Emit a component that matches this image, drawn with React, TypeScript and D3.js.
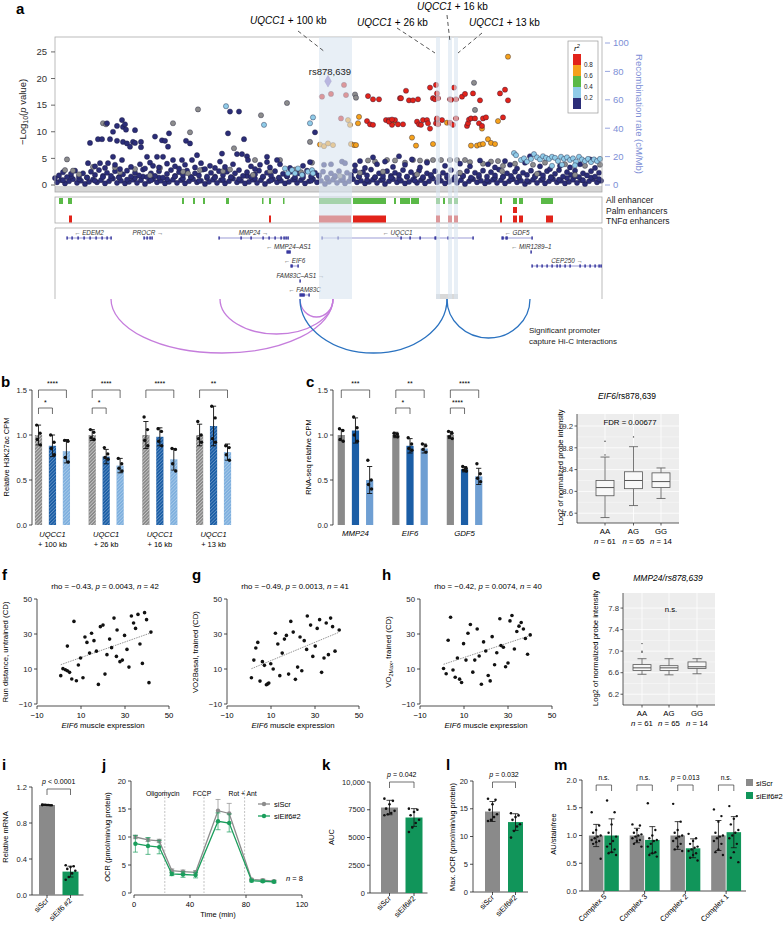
import React from 'react';
import * as d3 from 'd3';

const FONT = 'Liberation Sans, Arial, Helvetica, sans-serif';

// ---------------- Panel a data ----------------
type P = [number, number];
const baseLowSnps: P[] = [[2,.5],[6,.9],[10,.3],[14,.7],[18,1.1],[22,.4],[26,.8],[30,.2],[34,.6],[38,1.0],[42,.5],[46,.9],[50,.3],[54,.7],[58,1.2],[62,.4],[66,.8],[70,.3],[74,.6],[78,1.0],[82,.4],[86,.9],[90,.2],[94,.7],[98,1.1],[102,.5],[106,.8],[110,.3],[114,.6],[118,1.0],[122,.4],[126,.9],[130,.3],[134,.7],[138,1.1],[142,.5],[146,.8],[150,.2],[154,.6],[158,1.0],[162,.4],[166,.9],[170,.3],[174,.7],[178,1.2],[182,.5],[186,.8],[190,.3],[194,.6],[198,1.0],[202,.4],[206,.9],[210,.2],[214,.7],[218,1.1],[222,.5],[226,.8],[230,.3],[234,.6],[238,1.0],[242,.4],[246,.9],[250,.3],[254,.7],[258,1.1],[262,.5],[266,.8],[270,.2],[274,.6],[278,1.0],[282,.4],[286,.9],[290,.3],[294,.7],[298,1.1],[302,.5],[306,.8],[310,.3],[314,.6],[318,1.0],[322,.4],[326,.9],[330,.2],[334,.7],[338,1.1],[342,.5],[346,.8],[350,.3],[354,.6],[358,1.0],[362,.4],[366,.9],[370,.3],[374,.7],[378,1.2],[382,.5],[386,.8],[390,.3],[394,.6],[398,1.0],[402,.4],[406,.9],[410,.2],[414,.7],[418,1.1],[422,.5],[426,.8],[430,.3],[434,.6],[438,1.0],[442,.4],[446,.9],[450,.3],[454,.7],[458,1.1],[462,.5],[466,.8],[470,.2],[474,.6],[478,1.0],[482,.4],[486,.9],[490,.3],[494,.7],[498,1.1],[502,.5],[506,.8],[510,.3],[514,.6],[518,1.0],[522,.4],[526,.9],[530,.2],[534,.7],[538,1.1],[542,.5],[546,.8]];
const baseFillSnps: P[] = [[0,1.3],[8,.9],[16,1.6],[24,1.1],[32,1.4],[40,.8],[48,1.7],[56,1.2],[64,1.5],[72,1.0],[80,1.3],[88,1.6],[96,.9],[104,1.4],[112,1.1],[120,1.7],[128,1.2],[136,1.5],[144,.8],[152,1.3],[160,1.6],[168,1.0],[176,1.4],[184,1.1],[192,1.7],[200,1.2],[208,1.5],[216,.9],[224,1.3],[232,1.6],[240,1.1],[248,1.4],[256,.8],[264,1.7],[272,1.2],[280,1.5],[288,1.0],[296,1.3],[304,1.6],[312,.9],[320,1.4],[328,1.1],[336,1.7],[344,1.2],[352,1.5],[360,.8],[368,1.3],[376,1.6],[384,1.0],[392,1.4],[400,1.1],[408,1.7],[416,1.2],[424,1.5],[432,.9],[440,1.3],[448,1.6],[456,1.1],[464,1.4],[472,.8],[480,1.7],[488,1.2],[496,1.5],[504,1.0],[512,1.3],[520,1.6],[528,.9],[536,1.4],[544,1.1]];
const baseMidSnps: P[] = [[4,1.8],[8,2.4],[12,1.5],[16,2.1],[20,2.7],[24,1.6],[28,2.2],[32,1.4],[36,2.5],[40,1.9],[44,2.8],[48,1.5],[52,2.3],[56,1.7],[60,2.6],[64,1.4],[68,2.0],[72,2.7],[76,1.6],[80,2.3],[84,1.8],[88,2.9],[92,1.5],[96,2.2],[100,1.7],[104,2.6],[108,1.4],[112,2.1],[116,2.8],[120,1.6],[124,2.4],[128,1.9],[132,2.7],[136,1.5],[140,2.2],[144,1.8],[148,2.9],[152,1.6],[156,2.3],[160,1.4],[164,2.6],[168,1.9],[172,2.5],[176,1.5],[180,2.2],[184,2.8],[188,1.7],[192,2.4],[196,1.5],[200,2.0],[204,2.7],[208,1.6],[212,2.3],[216,1.8],[220,2.6],[224,1.4],[228,2.1],[232,1.7],[236,2.5],[240,1.5],[244,2.2],[248,1.9],[252,2.7],[256,1.6],[260,2.3],[264,1.8],[268,2.5],[272,1.4],[276,2.2],[280,1.7],[284,2.6],[288,1.5],[292,2.3],[296,1.9],[300,2.7],[304,1.6],[308,2.4],[312,1.8],[316,2.9],[320,1.5],[324,2.2],[328,1.7],[332,2.6],[336,1.4],[340,2.3],[344,1.9],[348,2.8],[352,1.6],[356,2.4],[360,1.8],[364,2.7],[368,1.5],[372,2.2],[376,1.9],[380,2.6],[384,1.6],[388,2.3],[392,1.8],[396,2.8],[400,1.5],[404,2.2],[408,1.7],[412,2.6],[416,1.4],[420,2.3],[424,1.9],[428,2.7],[432,1.6],[436,2.4],[440,1.8],[444,2.9],[448,1.5],[452,2.2],[456,1.7],[460,2.5],[464,1.6],[468,2.3],[472,1.9],[476,2.7],[480,1.5],[484,2.2],[488,1.8],[492,2.6],[496,1.4],[500,2.1],[504,2.8],[508,1.6],[512,2.4],[516,1.9],[520,2.7],[524,1.5],[528,2.2],[532,1.8],[536,2.6],[540,1.6],[544,2.3]];
const navySnps: P[] = [[33,4.1],[35,7.9],[43,8.6],[47,8.6],[52,11.6],[55,8.6],[58,10.0],[62,11.1],[62,8.3],[67,12.2],[68,10.9],[70,11.4],[71,10.4],[68,8.1],[72,7.8],[75,7.2],[78,8.1],[80,10.3],[80,7.9],[86,8.1],[86,7.1],[58,5.3],[53,4.1],[45,4.1],[67,4.7],[92,5.3],[100,9.1],[102,5.3],[107,8.4],[108,5.3],[110,8.3],[113,7.2],[114,9.7],[118,4.7],[127,4.7],[131,8.3],[135,7.8],[137,4.7],[142,5.6],[167,5.9],[173,9.7],[175,13.8],[182,5.8],[184,13.8],[187,5.8],[189,8.6],[192,5.4],[193,4.7],[212,5.3],[212,4.3],[222,4.7],[260,9.9],[344,5.4],[475,5.4],[535,4.8],[269,3.8],[276,3.9],[287,4.4],[290,4.1],[40,3.5],[50,3.2],[60,3.8],[65,3.0],[76,3.4],[85,3.9],[90,3.1],[95,4.2],[98,3.6],[104,3.3],[112,4.0],[120,3.5],[124,3.1],[130,3.8],[140,3.3],[146,4.1],[150,3.0],[155,3.6],[160,3.2],[165,4.4],[170,3.4],[178,3.9],[196,3.5],[200,3.0],[205,3.8],[215,3.3],[225,3.9],[235,3.2],[248,3.6],[255,4.3],[300,3.7],[305,4.5],[310,3.2],[318,5.2],[322,3.9],[330,4.4],[338,3.4],[350,3.8],[357,4.8],[365,3.3],[372,4.2],[390,3.6],[405,4.0],[415,3.5],[425,4.6],[433,3.9],[440,3.3],[450,4.5],[455,3.8],[462,3.1],[470,4.2],[485,3.5],[495,3.0],[505,3.6],[515,3.3],[525,3.9],[540,3.2]];
const graySnps: P[] = [[12,4.8],[10,2.8],[18,2.7],[48,11.6],[51,11.4],[118,11.6],[135,9.9],[143,14.2],[206,13.1],[232,15.4],[179,6.9],[200,4.7],[225,4.7],[255,8.1],[257,4.2],[300,17.0],[301,16.4],[305,2.3],[332,4.7],[38,3.4],[60,3.3],[80,3.0],[105,3.2],[128,2.5],[145,2.8],[175,2.9],[215,2.6],[240,2.9],[313,4.6],[320,4.4],[340,4.6],[350,4.2],[358,4.7],[365,4.6],[372,4.4],[378,4.7],[386,4.7],[395,4.7],[402,4.7],[410,4.7],[415,4.3],[419,19.2],[420,14.1],[428,4.0],[436,4.4],[443,4.5],[448,3.6],[460,4.0],[478,3.8],[490,4.2],[510,3.9],[530,3.6],[545,3.8],[24,2.0],[65,2.4],[95,1.8],[133,2.2],[168,2.6],[198,1.9],[246,2.4],[285,1.7],[328,2.5],[362,2.0],[405,2.3],[447,2.6],[482,2.1],[520,1.9]];
const lightBlueSnps: P[] = [[171,14.8],[209,11.3],[258,12.7],[255,11.6],[230,3.1],[233,2.2],[237,2.8],[240,2.2],[243,3.1],[247,1.9],[253,2.5],[257,2.8],[258,2.2],[459,6.0],[461,5.6],[466,4.7],[469,5.0],[472,4.4],[476,4.9],[479,5.8],[482,5.2],[485,4.8],[488,5.4],[491,5.1],[494,4.9],[497,5.3],[500,5.1],[503,4.5],[506,5.3],[509,4.9],[512,5.2],[515,4.7],[518,5.0],[521,4.4],[524,5.3],[527,4.8],[530,4.5],[533,4.9],[536,4.3],[539,4.8],[542,4.5],[545,4.9],[507,3.8],[497,3.6],[520,3.7]];
const orangeSnps: P[] = [[265,7.6],[269,7.3],[273,7.8],[278,7.5],[293,12.2],[295,11.3],[296,7.7],[299,7.5],[301,7.5],[303,11.6],[304,12.8],[338,11.7],[357,8.9],[361,7.4],[378,7.7],[392,11.7],[416,7.4],[422,7.4],[425,7.6],[427,10.6],[428,7.7],[433,8.6],[436,7.9],[440,7.7],[443,12.0],[453,24.1]];
const redSnps: P[] = [[267,16.6],[276,17.1],[289,18.8],[291,16.9],[286,12.5],[312,12.0],[313,16.7],[318,16.1],[324,16.1],[315,11.4],[318,11.3],[331,12.2],[334,12.2],[337,11.3],[340,12.2],[345,16.3],[334,11.9],[337,12.3],[343,11.4],[346,16.3],[348,11.4],[351,17.7],[354,15.9],[358,15.9],[362,11.9],[363,16.1],[364,11.4],[366,11.3],[368,12.2],[372,12.2],[373,11.6],[375,18.3],[375,10.6],[378,16.3],[380,16.1],[381,11.6],[382,12.3],[383,16.3],[381,18.8],[382,17.2],[382,12.5],[383,11.4],[387,12.2],[395,11.7],[395,16.1],[396,16.0],[398,11.3],[399,18.3],[401,16.1],[401,12.5],[407,16.6],[410,17.1],[412,11.1],[413,11.6],[414,12.3],[416,12.5],[418,17.2],[420,12.5],[424,11.6],[425,15.9],[427,11.1],[428,12.5],[431,12.7],[445,17.2],[450,17.9],[448,12.7],[453,15.9]];
const leadSnp: P = [273, 19.5];
const leadSnpName = 'rs878,639';
const r2Breaks = ['0.8', '0.6', '0.4', '0.2'];
const r2Colors = ['#e2231a', '#f5a11c', '#5ab947', '#8fcbe8', '#2b2d78'];
const logPTicks = [0, 5, 10, 15, 20, 25];
const recTicks = [0, 20, 40, 60, 80, 100];

const enhancerBands = [
  { name: '+ 100 kb', s: 264, e: 297 },
  { name: '+ 26 kb', s: 381, e: 385 },
  { name: '+ 16 kb', s: 393, e: 397 },
  { name: '+ 13 kb', s: 399, e: 403 },
];
const allEnh: P[] = [[4,8],[13,17],[127,129],[138,140],[148,150],[171,174],[207,208.5],[214,216],[228,229.5],[264,296],[298,331],[339,341],[345,355],[356,364],[381,385],[388,390],[393,397],[399,403],[445,447],[458,462],[464,468],[486,498]];
const palmEnh: P[] = [[458,462]];
const tnfEnh: P[] = [[14,17],[214,216],[264,296],[298,331],[381,385],[393,397],[399,403],[445,447],[458,462],[464,468],[491,498]];
const trackNames = ['All enhancer', 'Palm enhancers', 'TNF\u03b1 enhancers'];

const genes = [
  { name: 'EDEM2', s: 12, e: 56, strand: -1, row: 0, exons: [12, 17, 23, 29, 35, 41, 47, 52, 56] },
  { name: 'PROCR', s: 89, e: 97, strand: 1, row: 0, exons: [89, 92, 95, 97] },
  { name: 'MMP24', s: 164, e: 233, strand: 1, row: 0, exons: [164, 186, 196, 208, 214, 220, 226, 229, 231, 233] },
  { name: 'MMP24\u2013AS1', s: 232, e: 235, strand: -1, row: 1, exons: [232, 233, 234, 235] },
  { name: 'EIF6', s: 236, e: 243, strand: -1, row: 2, exons: [236, 237, 243] },
  { name: 'FAM83C\u2013AS1', s: 245, e: 245.6, strand: 1, row: 3, exons: [245] },
  { name: 'FAM83C', s: 245, e: 254, strand: -1, row: 4, exons: [245, 246, 247, 248, 249, 254] },
  { name: 'UQCC1', s: 267, e: 418, strand: -1, row: 0, exons: [267, 283, 346, 355, 365, 380, 381, 393, 418] },
  { name: 'GDF5', s: 447, e: 477, strand: -1, row: 0, exons: [447, 448, 451, 452, 477] },
  { name: 'MIR1289\u20131', s: 476, e: 476.6, strand: -1, row: 1, exons: [476] },
  { name: 'CEP250', s: 477, e: 547, strand: 1, row: 2, exons: [477, 482, 487, 492, 497, 502, 505, 510, 515, 525, 530, 535, 540, 544, 546] },
];
const purpleArcs: [number, number, number][] = [[56, 278, 54], [165, 278, 35], [245, 278, 18]];
const blueArcs: [number, number, number][] = [[245, 392, 54], [392, 475, 39]];

// ---------------- Panel b, c ----------------
const bGroups = ['+ 100 kb', '+ 26 kb', '+ 16 kb', '+ 13 kb'];
const bMeans = [[1.0, 0.88, 0.82], [1.0, 0.76, 0.66], [1.0, 0.98, 0.73], [1.0, 1.10, 0.81]];
const bErrs = [[0.11, 0.12, 0.13], [0.06, 0.08, 0.08], [0.15, 0.10, 0.12], [0.12, 0.22, 0.09]];
const bPoints = [
  [[1.11, 1.02, 0.95, 0.89], [1.0, 0.92, 0.85, 0.78], [0.94, 0.93, 0.75, 0.7]],
  [[1.06, 1.03, 0.97, 0.95], [0.86, 0.79, 0.75, 0.73], [0.74, 0.68, 0.63, 0.6]],
  [[1.2, 1.06, 0.94, 0.88], [1.07, 1.04, 0.93, 0.88], [0.85, 0.84, 0.68, 0.6]],
  [[1.15, 1.0, 0.96, 0.92], [1.32, 1.19, 0.96, 0.92], [0.88, 0.86, 0.78, 0.72]],
];
const bSigTop = ['****', '****', '****', '**'];
const bSigLow = ['*', '*', '', ''];
const cGroups = ['MMP24', 'EIF6', 'GDF5'];
const cMeans = [[1.0, 1.05, 0.5], [1.0, 0.88, 0.85], [1.0, 0.62, 0.54]];
const cErrs = [[0.06, 0.14, 0.15], [0.03, 0.08, 0.05], [0.04, 0.03, 0.09]];
const cPoints = [
  [[1.07, 1.05, 0.95, 0.93], [1.2, 1.08, 1.0, 0.93], [0.72, 0.5, 0.45, 0.4]],
  [[1.02, 1.01, 0.99, 0.98], [0.97, 0.9, 0.85, 0.83], [0.9, 0.88, 0.84, 0.81]],
  [[1.04, 1.02, 0.98, 0.96], [0.65, 0.63, 0.61, 0.6], [0.68, 0.57, 0.52, 0.48]],
];
const cSigTop = ['***', '**', '****'];
const cSigLow = ['', '*', '****'];
const bcTicks = [0, 0.5, 1.0, 1.5];

// ---------------- Panel d, e ----------------
const genotypes = ['AA', 'AG', 'GG'];
const genoN = [61, 65, 14];
const dStats = [[7.52, 7.92, 8.07, 8.2, 8.63], [7.74, 8.05, 8.2, 8.36, 8.82], [7.87, 8.07, 8.18, 8.34, 8.43]];
const dOutliers = [[8.67, 8.92], [9.0], []];
const dTicks = [7.6, 8.0, 8.4, 8.8, 9.2];
const eStats = [[6.57, 6.64, 6.69, 6.75, 6.86], [6.56, 6.64, 6.69, 6.73, 6.86], [6.58, 6.68, 6.71, 6.8, 6.86]];
const eOutliers = [[6.98, 7.0, 7.14], [], []];
const eTicks = [6.2, 6.6, 7.0, 7.4, 7.8];

// ---------------- Panel f, g, h ----------------
const fPts: P[] = [[0.8,6.2],[1.8,10.2],[2.9,9.6],[3.8,9.0],[3.8,23.1],[4.8,8.1],[5.8,4.3],[6.8,37.2],[7.9,3.3],[8.8,12.3],[9.8,16.3],[10.9,5.0],[11.8,28.3],[12.7,25.2],[13.9,19.1],[14.8,30.4],[15.9,26.2],[17.0,20.2],[17.9,1.2],[18.8,34.2],[20.0,35.1],[20.9,7.1],[21.8,18.2],[23.0,27.1],[23.9,22.2],[25.0,39.1],[26.1,17.2],[26.4,32.3],[27.7,14.2],[28.8,15.1],[29.8,29.2],[30.9,21.2],[31.8,11.1],[32.9,40.3],[33.9,36.3],[34.8,33.2],[35.9,41.2],[36.8,24.3],[37.9,13.2],[38.9,42.2],[39.8,38.2],[40.9,2.2],[41.8,31.1]];
const gPts: P[] = [[1.1,5.0],[2.2,15.1],[3.1,22.0],[4.0,25.2],[5.0,3.1],[6.1,14.2],[7.0,12.1],[7.9,1.0],[9.0,2.0],[9.9,13.0],[11.0,10.0],[12.0,30.4],[13.1,24.3],[14.0,6.2],[15.1,19.1],[16.1,27.1],[17.0,29.2],[18.0,7.1],[19.0,37.2],[20.1,31.1],[21.1,4.1],[22.1,11.1],[23.2,28.3],[24.0,9.0],[25.1,26.2],[26.2,21.2],[26.5,40.3],[28.0,35.1],[29.0,17.2],[30.1,23.1],[31.0,33.2],[32.1,38.2],[33.0,8.1],[34.1,16.3],[35.1,36.3],[36.1,18.2],[37.1,39.1],[38.0,34.2],[39.1,20.2],[41.0,32.3],[8.5,1.5]];
const hPts: P[] = [[0.7,10.3],[1.9,7.3],[2.8,26.4],[3.9,39.6],[5.0,9.4],[6.0,5.3],[7.0,16.3],[8.0,4.2],[8.9,2.3],[9.8,24.5],[10.9,15.1],[11.8,30.4],[12.9,35.4],[14.0,8.2],[14.9,15.1],[16.0,32.9],[16.9,17.4],[17.9,1.3],[18.9,25.5],[19.9,20.3],[21.0,6.3],[21.9,3.2],[22.8,28.5],[23.9,12.4],[24.9,19.3],[26.3,38.7],[26.8,23.4],[27.9,22.4],[28.9,11.3],[30.0,13.4],[30.9,37.5],[31.8,40.6],[32.9,21.4],[34.0,31.4],[35.0,34.5],[36.0,36.6],[37.0,32.9],[37.9,27.4],[38.9,18.4],[40.1,29.5]];
const corrTicks = [-10, 10, 30, 50];

// ---------------- Panel i-m ----------------
const iMeans = [1.0, 0.26];
const iErrs = [0.004, 0.06];
const iPoints = [[1.005, 0.998, 1.0, 1.002, 0.997, 1.0, 1.003, 0.999], [0.33, 0.32, 0.31, 0.29, 0.27, 0.24, 0.2, 0.17]];
const iTicks = [0, 0.4, 0.8, 1.2];
const conditions = ['siScr', 'siEif6#2'];
const jTimes = [1, 10, 18, 27, 35, 44, 60, 68, 84, 92, 100];
const jScr = [10.0, 9.5, 9.3, 4.0, 3.8, 3.7, 14.7, 14.2, 2.4, 2.3, 2.1];
const jScrErr = [0.3, 0.3, 0.3, 0.3, 0.3, 0.3, 2.0, 1.8, 0.2, 0.2, 0.2];
const jSi = [8.8, 8.4, 8.2, 3.4, 3.3, 3.2, 12.8, 12.5, 2.2, 2.1, 2.0];
const jSiErr = [1.5, 1.5, 1.2, 0.3, 0.5, 0.5, 1.5, 1.6, 0.2, 0.2, 0.2];
const jInjections = [{ t: 22, name: 'Oligomycin' }, { t: 50, name: 'FCCP' }, { t: 79, name: 'Rot + Ant' }];
const kMeans = [7700, 6800];
const kErrs = [650, 800];
const kPoints = [[8500, 8300, 8000, 7600, 7400, 7200, 7100, 7000], [7600, 7500, 7300, 7000, 6600, 6300, 5900, 5500]];
const kTicks = [0, 2500, 5000, 7500, 10000];
const kTickLabels = ['0', '2500', '5000', '7500', '10,000'];
const lMeans = [14.5, 12.6];
const lErrs = [1.8, 1.5];
const lPoints = [[16.8, 16.6, 15.8, 14.8, 14.0, 13.5, 13.0, 12.8], [14.2, 13.8, 13.5, 13.0, 12.2, 11.8, 11.0, 9.8]];
const mGroups = ['Complex 5', 'Complex 3', 'Complex 2', 'Complex 1'];
const mMeans = [[1.0, 1.0], [1.0, 0.92], [1.0, 0.77], [1.0, 1.06]];
const mErrs = [[0.2, 0.3], [0.13, 0.24], [0.25, 0.17], [0.27, 0.28]];
const mPoints = [
  [[1.42, 1.18, 1.1, 1.05, 1.0, 0.98, 0.95, 0.92, 0.9, 0.88, 0.85, 0.58], [1.63, 1.42, 1.2, 1.05, 0.98, 0.9, 0.85, 0.8, 0.75, 0.7, 0.68, 0.65]],
  [[1.2, 1.18, 1.1, 1.05, 1.02, 1.0, 0.98, 0.95, 0.92, 0.9, 0.85, 0.8], [1.58, 1.1, 1.0, 0.95, 0.92, 0.9, 0.85, 0.8, 0.7, 0.68, 0.65, 0.62]],
  [[1.57, 1.25, 1.1, 1.05, 1.0, 0.98, 0.95, 0.9, 0.85, 0.8, 0.75, 0.72], [1.03, 0.95, 0.9, 0.85, 0.8, 0.78, 0.75, 0.72, 0.68, 0.65, 0.6, 0.55]],
  [[1.47, 1.35, 1.25, 1.05, 1.0, 0.98, 0.95, 0.9, 0.85, 0.75, 0.7, 0.65], [1.53, 1.35, 1.3, 1.2, 1.1, 1.05, 1.0, 0.95, 0.85, 0.7, 0.6, 0.52]],
];
const mSig = ['n.s.', 'n.s.', 'p = 0.013', 'n.s.'];
const mTicks = [0, 0.5, 1.0, 1.5, 2.0];

// ---------------- helpers ----------------
const GRAY = '#8a8a8a';
const GREEN = '#11955a';
const jit = (i: number) => (((i * 5) % 7) - 3) / 3;

function YAxis({ scale, x, ticks, labels, fs = 7.5, len = 3, color = '#222', top, bottom }: any) {
  const r = scale.range();
  return (
    <g>
      <line x1={x} x2={x} y1={top ?? Math.min(...r)} y2={bottom ?? Math.max(...r)} stroke={color} strokeWidth={0.8} />
      {ticks.map((t: number, i: number) => (
        <g key={i}>
          <line x1={x - len} x2={x} y1={scale(t)} y2={scale(t)} stroke={color} strokeWidth={0.8} />
          <text x={x - len - 2} y={scale(t) + fs * 0.35} fontSize={fs} textAnchor="end" fill={color}>{labels ? labels[i] : String(t)}</text>
        </g>
      ))}
    </g>
  );
}
function XAxis({ scale, y, ticks, labels, fs = 7.5, len = 3 }: any) {
  const r = scale.range();
  return (
    <g>
      <line x1={r[0]} x2={r[1]} y1={y} y2={y} stroke="#222" strokeWidth={0.8} />
      {ticks.map((t: number, i: number) => (
        <g key={i}>
          <line x1={scale(t)} x2={scale(t)} y1={y} y2={y + len} stroke="#222" strokeWidth={0.8} />
          <text x={scale(t)} y={y + len + fs + 1} fontSize={fs} textAnchor="middle">{labels ? labels[i] : (t < 0 ? '\u2212' + Math.abs(t) : String(t))}</text>
        </g>
      ))}
    </g>
  );
}
function ErrBar({ x, y1, y2, cap = 3, w = 0.8, color = '#111' }: any) {
  return (
    <g stroke={color} strokeWidth={w}>
      <line x1={x} x2={x} y1={y1} y2={y2} />
      <line x1={x - cap} x2={x + cap} y1={y1} y2={y1} />
      <line x1={x - cap} x2={x + cap} y1={y2} y2={y2} />
    </g>
  );
}
function Bracket({ x1, x2, y, drop, label, ty, fs = 7 }: any) {
  return (
    <g>
      <path d={`M${x1},${y + drop}V${y}H${x2}V${y + drop}`} fill="none" stroke="#333" strokeWidth={0.7} />
      <text x={(x1 + x2) / 2} y={ty} fontSize={fs} textAnchor="middle">{label}</text>
    </g>
  );
}
function PanelLabel({ x, y, t }: any) {
  return <text x={x} y={y} fontSize={15} fontWeight="bold">{t}</text>;
}

// ---------------- Panel a ----------------
function PanelA() {
  const xA = d3.scaleLinear().domain([0, 547]).range([55, 602]);
  const yA = d3.scaleLinear().domain([0, 27.8]).range([185, 37]);
  const yRec = d3.scaleLinear().domain([0, 100]).range([185, 43]);
  const rowY = [238, 252, 266, 281, 295];
  const dot = (arr: P[], fill: string, key: string) =>
    arr.map((p, i) => <circle key={key + i} cx={xA(p[0])} cy={yA(p[1])} r={2.6} fill={fill} stroke="#1c1c3a" strokeWidth={0.4} />);
  const arc = (a: [number, number, number], color: string, i: number) => {
    const x1 = xA(a[0]), x2 = xA(a[1]);
    const rx = (x2 - x1) / 2;
    return <path key={color + i} d={`M${x1},299 A${rx},${a[2]} 0 0 0 ${x2},299`} fill="none" stroke={color} strokeWidth={1.3} />;
  };
  const annot = [
    { tx: 250, ty: 24, l: [298, 31, 325, 52] },
    { tx: 357, ty: 26, l: [397, 28, 435, 53] },
    { tx: 417, ty: 10, l: [447, 15, 450, 42] },
    { tx: 469, ty: 26, l: [482, 33, 458, 53] },
  ];
  const recColor = '#7d8fd6';
  return (
    <g>
      <PanelLabel x={16} y={14} t="a" />
      <rect x={55} y={186} width={547} height={6} fill="#d6d6d6" />
      {dot(baseLowSnps, r2Colors[4], 'bl')}
      {dot(baseFillSnps, r2Colors[4], 'bf')}
      {dot(baseMidSnps, r2Colors[4], 'bm')}
      {dot(graySnps, '#8c8c8c', 'g')}
      {dot(navySnps, r2Colors[4], 'n')}
      {dot(lightBlueSnps, r2Colors[3], 'lb')}
      {dot(orangeSnps, r2Colors[1], 'o')}
      {dot(redSnps, r2Colors[0], 'r')}
      <path d={d3.symbol(d3.symbolDiamond, 40)() as string} transform={`translate(${xA(leadSnp[0])},${yA(leadSnp[1])})`} fill="#8a70c8" stroke="#5a4a90" strokeWidth={0.4} />
      <rect x={55} y={37} width={547} height={155} fill="none" stroke="#aaa" strokeWidth={0.8} />
      {/* left axis */}
      {logPTicks.map((t) => (
        <g key={t}>
          <line x1={51} x2={55} y1={yA(t)} y2={yA(t)} stroke="#444" strokeWidth={0.8} />
          <text x={47} y={yA(t) + 3.3} fontSize={9.5} textAnchor="end" fill="#333">{t}</text>
        </g>
      ))}
      <text transform="translate(26,112) rotate(-90)" fontSize={9.5} textAnchor="middle" fill="#222">
        {'\u2212Log'}<tspan fontSize={7} dy={2}>10</tspan><tspan dy={-2}>(</tspan><tspan fontStyle="italic">p</tspan> value)
      </text>
      {/* right axis */}
      {recTicks.map((t) => (
        <g key={t}>
          <line x1={605} x2={610} y1={yRec(t)} y2={yRec(t)} stroke={recColor} strokeWidth={0.8} />
          <text x={613} y={yRec(t) + 3.3} fontSize={9.5} fill={recColor}>{t}</text>
        </g>
      ))}
      <text transform="translate(636,114) rotate(90)" fontSize={9.5} textAnchor="middle" fill={recColor}>Recombination rate (cM/Mb)</text>
      {/* r2 legend */}
      <rect x={568} y={41} width={30} height={72} fill="white" stroke="#999" strokeWidth={0.7} />
      <text x={574} y={51} fontSize={8} fontStyle="italic">r<tspan fontSize={5.5} dy={-3}>2</tspan></text>
      {r2Colors.map((c, i) => <rect key={c} x={573} y={54 + i * 11} width={8} height={11} fill={c} />)}
      {r2Breaks.map((b, i) => <text key={b} x={584} y={67 + i * 11} fontSize={6.3} fill="#222">{b}</text>)}
      {/* tracks */}
      <rect x={55} y={197} width={547} height={26} fill="none" stroke="#aaa" strokeWidth={0.8} />
      {allEnh.map((e, i) => <rect key={'ae' + i} x={xA(e[0])} y={198} width={xA(e[1]) - xA(e[0])} height={6} fill="#5ab947" />)}
      {palmEnh.map((e, i) => <rect key={'pe' + i} x={xA(e[0])} y={207} width={xA(e[1]) - xA(e[0])} height={6} fill="#e2231a" />)}
      {tnfEnh.map((e, i) => <rect key={'te' + i} x={xA(e[0])} y={215.5} width={xA(e[1]) - xA(e[0])} height={7} fill="#e2231a" />)}
      {trackNames.map((t, i) => <text key={t} x={606} y={203 + i * 10.7} fontSize={8.5} fill="#222">{t}</text>)}
      {/* genes */}
      <path d="M55,299V228H602V299" fill="none" stroke="#aaa" strokeWidth={0.8} />
      {genes.map((g) => {
        const y = rowY[g.row];
        const label = g.strand < 0 ? '\u2190 ' + g.name : g.name + ' \u2192';
        return (
          <g key={g.name}>
            <line x1={xA(g.s)} x2={xA(g.e)} y1={y} y2={y} stroke="#5757b8" strokeWidth={0.6} />
            {g.exons.map((ex, k) => <rect key={k} x={xA(ex) - 0.6} y={y - 1.6} width={1.4} height={3.2} fill="#2e2e9a" />)}
            <text x={xA((g.s + g.e) / 2)} y={y - 3.5} fontSize={6.3} fontStyle="italic" textAnchor="middle" fill="#333">{label}</text>
          </g>
        );
      })}
      <rect x={xA(381)} y={294} width={xA(403) - xA(381)} height={5} fill="#d9d9d9" />
      {/* bands overlay */}
      {enhancerBands.map((b) => <rect key={b.name} x={xA(b.s)} y={37} width={xA(b.e) - xA(b.s)} height={262} fill="#d9e4f0" opacity={0.6} />)}
      <text x={xA(leadSnp[0]) + 2} y={yA(leadSnp[1]) - 6} fontSize={9.5} textAnchor="middle" fill="#222">{leadSnpName}</text>
      {enhancerBands.map((b, i) => {
        const a = annot[i];
        return (
          <g key={'an' + i}>
            <text x={a.tx} y={a.ty} fontSize={10}><tspan fontStyle="italic">UQCC1</tspan> {b.name}</text>
            <line x1={a.l[0]} y1={a.l[1]} x2={a.l[2]} y2={a.l[3]} stroke="#444" strokeWidth={0.9} strokeDasharray="4,3" />
          </g>
        );
      })}
      {/* arcs */}
      {purpleArcs.map((a, i) => arc(a, '#c57ddc', i))}
      {blueArcs.map((a, i) => arc(a, '#2a72c0', i))}
      <text x={529} y={333} fontSize={8} fill="#222">Significant promoter</text>
      <text x={529} y={343.5} fontSize={8} fill="#222">capture Hi-C interactions</text>
    </g>
  );
}

// ---------------- Panel b/c ----------------
function GroupedBars({ groups, means, errs, pts, topSig, lowSig, range, axisX, colors, hatch, italicAll, subLabel, yLabel, yLabelX }: any) {
  const y = d3.scaleLinear().domain([0, 1.5]).range([525, 390]);
  const xg = d3.scaleBand().domain(groups).range(range);
  const off = xg.bandwidth() * 0.26;
  const bw = 7.2;
  return (
    <g>
      <YAxis scale={y} x={axisX} ticks={bcTicks} labels={bcTicks.map((t) => t.toFixed(1))} fs={7.5} />
      <text transform={`translate(${yLabelX},457) rotate(-90)`} fontSize={7.5} textAnchor="middle">{yLabel}</text>
      {groups.map((g: string, gi: number) => {
        const cx = (xg(g) as number) + xg.bandwidth() / 2;
        const xs = [cx - off, cx, cx + off];
        return (
          <g key={g}>
            {means[gi].map((m: number, k: number) => (
              <g key={k}>
                <rect x={xs[k] - bw / 2} y={y(m)} width={bw} height={y(0) - y(m)} fill={colors[k]} />
                {hatch && <rect x={xs[k] - bw / 2} y={y(m)} width={bw} height={y(0) - y(m)} fill="url(#hatch)" opacity={k === 0 ? 0.9 : 0.55} />}
                <ErrBar x={xs[k]} y1={y(m + errs[gi][k])} y2={y(m - errs[gi][k])} cap={2.6} w={0.9} />
                {pts[gi][k].map((v: number, pi: number) => (
                  <circle key={pi} cx={xs[k] + [-1.8, 1.6, -1.2, 1.9][pi]} cy={y(v)} r={1.7} fill="#111" />
                ))}
              </g>
            ))}
            {topSig[gi] && <Bracket x1={xs[0]} x2={xs[2]} y={390} drop={8} label={topSig[gi]} ty={386} fs={7} />}
            {lowSig[gi] && <Bracket x1={xs[0]} x2={xs[1]} y={408} drop={6} label={lowSig[gi]} ty={405} fs={7} />}
            {italicAll ? (
              <text x={cx} y={536} fontSize={7.8} fontStyle="italic" textAnchor="middle">{g}</text>
            ) : (
              <g>
                <text x={cx} y={537} fontSize={7.5} fontStyle="italic" textAnchor="middle">{subLabel}</text>
                <text x={cx} y={547} fontSize={7.5} textAnchor="middle">{g}</text>
              </g>
            )}
          </g>
        );
      })}
    </g>
  );
}

// ---------------- Boxplots ----------------
function BoxPanel({ stats, outs, ticks, domain, yr, xr, centers, title, titleY, fdr, fdrY, axisLabelX }: any) {
  const y = d3.scaleLinear().domain(domain).range(yr);
  const bw = 18;
  return (
    <g>
      <text x={(xr[0] + xr[1]) / 2 - 1} y={titleY} fontSize={8.5} textAnchor="middle">{title}</text>
      <rect x={xr[0]} y={yr[1]} width={xr[1] - xr[0]} height={yr[0] - yr[1]} fill="#ededed" />
      {ticks.map((t: number) => <line key={t} x1={xr[0]} x2={xr[1]} y1={y(t)} y2={y(t)} stroke="#fff" strokeWidth={0.8} />)}
      {ticks.slice(0, -1).map((t: number, i: number) => <line key={'m' + t} x1={xr[0]} x2={xr[1]} y1={y((t + ticks[i + 1]) / 2)} y2={y((t + ticks[i + 1]) / 2)} stroke="#fff" strokeWidth={0.4} />)}
      {centers.map((c: number) => <line key={c} x1={c} x2={c} y1={yr[1]} y2={yr[0]} stroke="#fff" strokeWidth={0.8} />)}
      {stats.map((s: number[], i: number) => {
        const c = centers[i];
        return (
          <g key={i} stroke="#555" strokeWidth={0.8}>
            <line x1={c} x2={c} y1={y(s[0])} y2={y(s[1])} />
            <line x1={c} x2={c} y1={y(s[3])} y2={y(s[4])} />
            <line x1={c - bw / 4} x2={c + bw / 4} y1={y(s[0])} y2={y(s[0])} />
            <line x1={c - bw / 4} x2={c + bw / 4} y1={y(s[4])} y2={y(s[4])} />
            <rect x={c - bw / 2} y={y(s[3])} width={bw} height={y(s[1]) - y(s[3])} fill="#f8f8f8" />
            <line x1={c - bw / 2} x2={c + bw / 2} y1={y(s[2])} y2={y(s[2])} strokeWidth={1} />
            {outs[i].map((o: number, k: number) => <circle key={k} cx={c} cy={y(o)} r={0.7} fill="#333" stroke="none" />)}
          </g>
        );
      })}
      <line x1={xr[0]} x2={xr[0]} y1={yr[1]} y2={yr[0]} stroke="#333" strokeWidth={0.8} />
      <line x1={xr[0]} x2={xr[1]} y1={yr[0]} y2={yr[0]} stroke="#333" strokeWidth={0.8} />
      {ticks.map((t: number) => (
        <g key={'t' + t}>
          <line x1={xr[0] - 2.5} x2={xr[0]} y1={y(t)} y2={y(t)} stroke="#333" strokeWidth={0.8} />
          <text x={xr[0] - 4} y={y(t) + 2.8} fontSize={7.8} textAnchor="end" fill="#333">{t.toFixed(1)}</text>
        </g>
      ))}
      {centers.map((c: number, i: number) => (
        <g key={'x' + i}>
          <line x1={c} x2={c} y1={yr[0]} y2={yr[0] + 2.5} stroke="#333" strokeWidth={0.8} />
          <text x={c} y={yr[0] + 10.5} fontSize={7.8} textAnchor="middle">{genotypes[i]}</text>
          <text x={c} y={yr[0] + 20.5} fontSize={7.8} textAnchor="middle"><tspan fontStyle="italic">n</tspan> = {genoN[i]}</text>
        </g>
      ))}
      <text x={(xr[0] + xr[1]) / 2 + 2} y={fdrY} fontSize={7.8} textAnchor="middle">{fdr}</text>
      <text transform={`translate(${axisLabelX},${(yr[0] + yr[1]) / 2 - 1}) rotate(-90)`} fontSize={7.6} textAnchor="middle">Log2 of normalized probe intensity</text>
    </g>
  );
}

// ---------------- Scatter ----------------
function Scatter({ pts, x0, stat, yLabel }: any) {
  const x = d3.scaleLinear().domain([-10, 50]).range([x0, x0 + 132]);
  const y = d3.scaleLinear().domain([-10, 50]).range([704, 599]);
  const mx = d3.mean(pts, (p: P) => p[0]) as number;
  const my = d3.mean(pts, (p: P) => p[1]) as number;
  const sxy = d3.sum(pts, (p: P) => (p[0] - mx) * (p[1] - my));
  const sxx = d3.sum(pts, (p: P) => (p[0] - mx) ** 2);
  const b = sxy / sxx, a = my - b * mx;
  const [ex0, ex1] = d3.extent(pts, (p: P) => p[0]) as [number, number];
  return (
    <g>
      <text x={x0 + 68} y={589} fontSize={7.8} textAnchor="middle">
        rho = {'\u2212'}{stat[0]}, <tspan fontStyle="italic">p</tspan> = {stat[1]}, <tspan fontStyle="italic">n</tspan> = {stat[2]}
      </text>
      <YAxis scale={y} x={x0} ticks={corrTicks} labels={corrTicks.map((t) => (t < 0 ? '\u2212' + Math.abs(t) : String(t)))} fs={7.8} />
      <XAxis scale={x} y={706} ticks={corrTicks} fs={7.8} />
      <line x1={x(ex0)} x2={x(ex1)} y1={y(a + b * ex0)} y2={y(a + b * ex1)} stroke="#666" strokeWidth={0.7} strokeDasharray="1.5,1" />
      {pts.map((p: P, i: number) => <circle key={i} cx={x(p[0])} cy={y(p[1])} r={1.8} fill="#111" />)}
      <text x={x0 + 66} y={728} fontSize={7.8} textAnchor="middle"><tspan fontStyle="italic">EIF6</tspan> muscle expression</text>
      <text transform={`translate(${x0 - 29},652) rotate(-90)`} fontSize={7.8} textAnchor="middle">{yLabel}</text>
    </g>
  );
}

// ---------------- Two-bar panels ----------------
function TwoBars({ means, errs, pts, y, centers, bw, axisX, ticks, labels, yLabel, yLabelX, sig, sigY, fs = 7.5, rotLabels = conditions }: any) {
  const base = y(0);
  return (
    <g>
      <YAxis scale={y} x={axisX} ticks={ticks} labels={labels} fs={fs} />
      <line x1={axisX} x2={centers[1] + bw / 2 + 5} y1={base} y2={base} stroke="#222" strokeWidth={0.8} />
      {means.map((m: number, k: number) => (
        <g key={k}>
          <rect x={centers[k] - bw / 2} y={y(m)} width={bw} height={base - y(m)} fill={k === 0 ? GRAY : GREEN} />
          <ErrBar x={centers[k]} y1={y(m + errs[k])} y2={y(m - errs[k])} cap={3} w={0.8} />
          {pts[k].map((v: number, i: number) => <circle key={i} cx={centers[k] + jit(i) * bw * 0.3} cy={y(v)} r={1.3} fill="#111" />)}
          <line x1={centers[k]} x2={centers[k]} y1={base} y2={base + 3} stroke="#222" strokeWidth={0.8} />
          <text transform={`translate(${centers[k] + 2},${base + 6}) rotate(-45)`} fontSize={fs} textAnchor="end">{rotLabels[k]}</text>
        </g>
      ))}
      <Bracket x1={centers[0]} x2={centers[1]} y={sigY} drop={6} label={<tspan><tspan fontStyle="italic">p</tspan>{sig}</tspan>} ty={sigY - 5} fs={7} />
      <text transform={`translate(${yLabelX},837) rotate(-90)`} fontSize={fs} textAnchor="middle">{yLabel}</text>
    </g>
  );
}

function PanelJ() {
  const x = d3.scaleLinear().domain([0, 120]).range([134, 302]);
  const y = d3.scaleLinear().domain([0, 20]).range([893, 781]);
  const line = d3.line<number>().x((_, i) => x(jTimes[i])).y((v) => y(v));
  const series = [
    { v: jScr, e: jScrErr, c: '#8c8c8c', n: conditions[0] },
    { v: jSi, e: jSiErr, c: '#1a9e5c', n: conditions[1] },
  ];
  return (
    <g>
      <YAxis scale={y} x={131} ticks={[0, 5, 10, 15, 20]} fs={7.5} />
      <XAxis scale={x} y={895} ticks={[0, 40, 80, 120]} fs={7.5} />
      <text x={218} y={917} fontSize={7.5} textAnchor="middle">Time (min)</text>
      <text transform="translate(110,837) rotate(-90)" fontSize={7.5} textAnchor="middle">OCR (pmol/min/ug protein)</text>
      {jInjections.map((inj) => (
        <g key={inj.name}>
          <line x1={x(inj.t)} x2={x(inj.t)} y1={790} y2={893} stroke="#999" strokeWidth={0.6} strokeDasharray="2,1.5" />
          <text x={x(inj.t) - 2} y={796} fontSize={6.8} textAnchor="middle">{inj.name}</text>
        </g>
      ))}
      {series.map((s) => (
        <g key={s.n}>
          {s.v.map((v, i) => <ErrBar key={i} x={x(jTimes[i])} y1={y(v + s.e[i])} y2={y(v - s.e[i])} cap={2.5} w={0.7} color={s.c} />)}
          <path d={line(s.v) as string} fill="none" stroke={s.c} strokeWidth={1.3} />
          {s.v.map((v, i) => <circle key={'p' + i} cx={x(jTimes[i])} cy={y(v)} r={2.2} fill={s.c} />)}
        </g>
      ))}
      {series.map((s, i) => (
        <g key={'lg' + i}>
          <line x1={258} x2={270} y1={804 + i * 12} y2={804 + i * 12} stroke={s.c} strokeWidth={1.3} />
          <circle cx={264} cy={804 + i * 12} r={2.2} fill={s.c} />
          <text x={274} y={806.5 + i * 12} fontSize={7.5}>{s.n}</text>
        </g>
      ))}
      <text x={286} y={881} fontSize={7.5}><tspan fontStyle="italic">n</tspan> = 8</text>
    </g>
  );
}

function PanelM() {
  const y = d3.scaleLinear().domain([0, 2]).range([891, 780]);
  const xg = d3.scaleBand().domain(mGroups).range([583.5, 746.5]);
  const bw = 14.5;
  return (
    <g>
      <YAxis scale={y} x={582} ticks={mTicks} labels={mTicks.map((t) => t.toFixed(1))} fs={7.5} />
      <line x1={582} x2={746} y1={891} y2={891} stroke="#222" strokeWidth={0.8} />
      <text transform="translate(556,834) rotate(-90)" fontSize={7.5} textAnchor="middle">AU/stainfree</text>
      {mGroups.map((g, gi) => {
        const cx = (xg(g) as number) + xg.bandwidth() / 2;
        const xs = [cx - 7.7, cx + 7.7];
        return (
          <g key={g}>
            {mMeans[gi].map((m, k) => (
              <g key={k}>
                <rect x={xs[k] - bw / 2} y={y(m)} width={bw} height={y(0) - y(m)} fill={k === 0 ? GRAY : GREEN} />
                <ErrBar x={xs[k]} y1={y(m + mErrs[gi][k])} y2={y(m - mErrs[gi][k])} cap={3} w={0.8} />
                {mPoints[gi][k].map((v, i) => <circle key={i} cx={xs[k] + jit(i) * 4.5} cy={y(v)} r={1.2} fill="#111" />)}
              </g>
            ))}
            <line x1={cx} x2={cx} y1={891} y2={894} stroke="#222" strokeWidth={0.8} />
            <Bracket x1={xs[0]} x2={xs[1]} y={785} drop={6} label={mSig[gi] === 'n.s.' ? 'n.s.' : <tspan><tspan fontStyle="italic">p</tspan>{mSig[gi].slice(1)}</tspan>} ty={780} fs={6.8} />
            <text transform={`translate(${cx + 3},${897}) rotate(-45)`} fontSize={7.5} textAnchor="end">{g}</text>
          </g>
        );
      })}
      {conditions.map((c, i) => (
        <g key={c}>
          <rect x={746} y={779 + i * 13} width={7} height={7} fill={i === 0 ? GRAY : GREEN} />
          <text x={756} y={785.5 + i * 13} fontSize={7.5}>{c}</text>
        </g>
      ))}
    </g>
  );
}

export default function App() {
  const yI = d3.scaleLinear().domain([0, 1.2]).range([895, 787]);
  const yK = d3.scaleLinear().domain([0, 10000]).range([893, 782]);
  const yL = d3.scaleLinear().domain([0, 20]).range([892, 781]);
  return (
    <svg width={784} height={930} style={{ position: 'absolute', left: 0, top: 0, fontFamily: FONT }} xmlns="http://www.w3.org/2000/svg">
      <defs>
        <pattern id="hatch" width={2.4} height={2.4} patternUnits="userSpaceOnUse" patternTransform="rotate(45)">
          <line x1={0} y1={0} x2={0} y2={2.4} stroke="#fff" strokeWidth={0.9} />
        </pattern>
      </defs>
      <rect width={784} height={930} fill="#fff" />
      <PanelA />

      <PanelLabel x={1} y={387} t="b" />
      <GroupedBars groups={bGroups} means={bMeans} errs={bErrs} pts={bPoints} topSig={bSigTop} lowSig={bSigLow}
        range={[25.6, 240.4]} axisX={32} colors={['#8a8a8a', '#1b5ea6', '#7fb0de']} hatch subLabel="UQCC1"
        yLabel="Relative H3K27ac CPM" yLabelX={9} />
      <PanelLabel x={306} y={387} t="c" />
      <GroupedBars groups={cGroups} means={cMeans} errs={cErrs} pts={cPoints} topSig={cSigTop} lowSig={cSigLow}
        range={[328.2, 491.8]} axisX={333} colors={['#8a8a8a', '#1b5ea6', '#6f9fd3']} italicAll
        yLabel="RNA-seq relative CPM" yLabelX={311} />

      <BoxPanel stats={dStats} outs={dOutliers} ticks={dTicks} domain={[7.42, 9.42]} yr={[523, 414]} xr={[577, 679]}
        centers={[605, 633.5, 661]} title={<tspan><tspan fontStyle="italic">EIF6</tspan>/rs878,639</tspan>} titleY={399}
        fdr="FDR = 0.00677" fdrY={425} axisLabelX={563} />
      <PanelLabel x={592} y={580} t="e" />
      <BoxPanel stats={eStats} outs={eOutliers} ticks={eTicks} domain={[6.0, 8.08]} yr={[705, 593]} xr={[623, 715]}
        centers={[642, 669, 697]} title={<tspan fontStyle="italic">MMP24/rs878,639</tspan>} titleY={581}
        fdr="n.s." fdrY={612} axisLabelX={598} />

      <PanelLabel x={2} y={580} t="f" />
      <Scatter pts={fPts} x0={37} stat={['0.43', '0.0043', 42]} yLabel="Run distance, untrained (CD)" />
      <PanelLabel x={192} y={580} t="g" />
      <Scatter pts={gPts} x0={227} stat={['0.49', '0.0013', 41]} yLabel="VO2Basal, trained (CD)" />
      <PanelLabel x={382} y={580} t="h" />
      <Scatter pts={hPts} x0={420} stat={['0.42', '0.0074', 40]}
        yLabel={<tspan>VO<tspan fontSize={5.5} dy={2}>2Max</tspan><tspan dy={-2}>, trained (CD)</tspan></tspan>} />

      <PanelLabel x={2} y={770} t="i" />
      <TwoBars means={iMeans} errs={iErrs} pts={iPoints} y={yI} centers={[47, 70.5]} bw={16} axisX={32}
        ticks={iTicks} labels={iTicks.map((t) => t.toFixed(1))} yLabel="Relative mRNA" yLabelX={8}
        sig=" < 0.0001" sigY={789} rotLabels={['siScr', 'siEif6 #2']} />
      <PanelLabel x={102} y={770} t="j" />
      <PanelJ />
      <PanelLabel x={322} y={770} t="k" />
      <TwoBars means={kMeans} errs={kErrs} pts={kPoints} y={yK} centers={[389.5, 414]} bw={17} axisX={370}
        ticks={kTicks} labels={kTickLabels} yLabel="AUC" yLabelX={334} sig=" = 0.042" sigY={782} />
      <PanelLabel x={446} y={770} t="l" />
      <TwoBars means={lMeans} errs={lErrs} pts={lPoints} y={yL} centers={[492.5, 515.5]} bw={15} axisX={473}
        ticks={[0, 5, 10, 15, 20]} yLabel="Max. OCR (pmol/min/ug protein)" yLabelX={455} sig=" = 0.032" sigY={782} />
      <PanelLabel x={554} y={770} t="m" />
      <PanelM />
    </svg>
  );
}
